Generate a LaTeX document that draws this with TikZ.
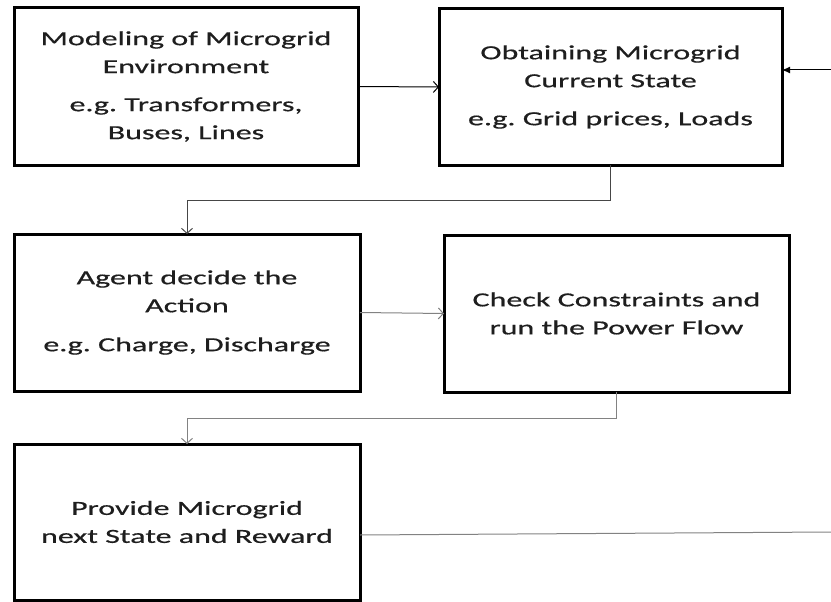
\documentclass[tikz,border=0pt]{standalone}
\usepackage{fontspec}
\setmainfont{Carlito}
\newfontfamily\widefont[FakeStretch=1.6,FakeBold=0.6]{Carlito}
\usetikzlibrary{arrows.meta}
\frenchspacing
\definecolor{txt}{RGB}{30,30,30}
\definecolor{ln2}{RGB}{70,70,70}
\definecolor{ln3}{RGB}{130,130,130}
\tikzset{
  box/.style={draw=black, line width=3pt, rectangle, inner sep=0pt, outer sep=0pt,
    align=center, text=txt, font=\widefont\fontsize{20}{28}\selectfont\frenchspacing},
  conn/.style={line width=1pt},
  openhead/.style={-{Straight Barb[length=5pt,width=11pt,line width=1pt]}},
  solidhead/.style={-{Latex[length=8pt,width=7pt]}}
}
\begin{document}
\begin{tikzpicture}[x=1pt,y=-1pt]
\useasboundingbox (0,0) rectangle (831,602);
\node[box, minimum width=344pt, minimum height=157pt] (b1) at (186,86.5)
  {Modeling of Microgrid\\Environment\\[10pt]e.g. Transformers,\\Buses, Lines};
\node[box, minimum width=343pt, minimum height=156pt] (b2) at (610.5,87)
  {Obtaining Microgrid\\Current State\\[10pt]e.g. Grid prices, Loads};
\node[box, minimum width=346pt, minimum height=157pt] (b3) at (187,312.5)
  {Agent decide the\\Action\\[11pt]e.g. Charge, Discharge};
\node[box, minimum width=345pt, minimum height=157pt] (b4) at (616.5,313.5)
  {Check Constraints and\\run the Power Flow};
\node[box, minimum width=346pt, minimum height=156pt] (b5) at (187,522)
  {Provide Microgrid\\next State and Reward};
\coordinate (e2) at (831,70);
\coordinate (e5) at (831,532);
\draw[conn, draw=black, openhead] (b1.east) -- (b2.west);
\draw[conn, draw=black, solidhead] (e2) -- (e2 -| b2.east);
\draw[conn, draw=ln2, openhead] (b2.south) -- ++(0,35) -| (b3.north);
\draw[conn, draw=ln3, openhead] (b3.east) -- (b4.west);
\draw[conn, draw=ln3, openhead] (b4.south) -- ++(0,26) -| (b5.north);
\draw[conn, draw=ln3] ([yshift=-13pt]b5.east) -- (e5);
\end{tikzpicture}
\end{document}
